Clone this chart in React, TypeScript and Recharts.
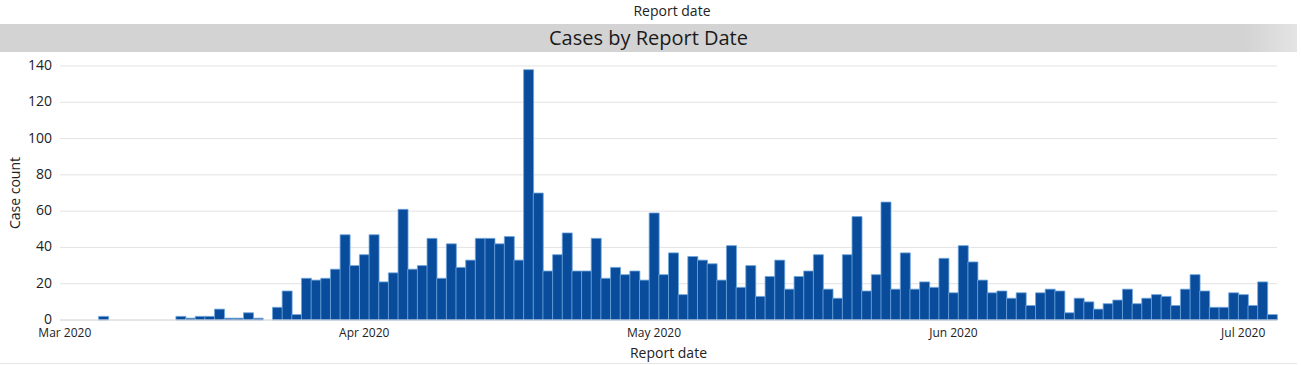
import { BarChart, Bar, XAxis, YAxis, CartesianGrid, Label } from "recharts";

// daily case counts, one array per month
const marchCases = [
  0, 0, 0, 0, 2, 0, 0, 0, 0, 0, 0, 0, 2, 1, 2, 2, 6, 1, 1, 4, 1, 0, 7, 16, 3, 23, 22, 23, 28, 47, 30,
];
const aprilCases = [
  36, 47, 21, 26, 61, 28, 30, 45, 23, 42, 29, 33, 45, 45, 42, 46, 33, 138, 70, 27, 36, 48, 27, 27, 45, 23, 29, 25, 27, 22,
];
const mayCases = [
  59, 25, 37, 14, 35, 33, 31, 22, 41, 18, 30, 13, 24, 33, 17, 24, 27, 36, 17, 12, 36, 57, 16, 25, 65, 17, 37, 17, 21, 18, 34,
];
const juneCases = [
  15, 41, 32, 22, 15, 16, 12, 15, 8, 15, 17, 16, 4, 12, 10, 6, 9, 11, 17, 9, 12, 14, 13, 8, 17, 25, 16, 7, 7, 15,
];
const julyCases = [14, 8, 21, 3];

const months = [
  { key: "Mar", label: "Mar 2020", cases: marchCases },
  { key: "Apr", label: "Apr 2020", cases: aprilCases },
  { key: "May", label: "May 2020", cases: mayCases },
  { key: "Jun", label: "Jun 2020", cases: juneCases },
  { key: "Jul", label: "Jul 2020", cases: julyCases },
];

const yTicks = [0, 20, 40, 60, 80, 100, 120, 140];

const data = months.flatMap((m) =>
  m.cases.map((count, i) => ({ date: `${m.key} ${i + 1}`, count }))
);
const monthTicks = months.map((m) => `${m.key} 1`);
const monthLabel: Record<string, string> = Object.fromEntries(
  months.map((m) => [`${m.key} 1`, m.label])
);

const FONT = "'Segoe UI', 'Open Sans', 'Noto Sans', sans-serif";

export default function App() {
  return (
    <div
      style={{
        position: "absolute",
        left: 0,
        top: 0,
        width: 1301,
        height: 365,
        background: "#fff",
        fontFamily: FONT,
        color: "#222",
        overflow: "hidden",
      }}
    >
      <div style={{ position: "absolute", top: 1, left: 0, width: 1344, textAlign: "center", fontSize: 14 }}>
        Report date
      </div>
      <div
        style={{
          position: "absolute",
          top: 24,
          left: 0,
          width: 1297,
          height: 28,
          background: "linear-gradient(to right, #d3d3d3 96%, #e4e4e4 100%)",
          textAlign: "center",
          fontSize: 20,
          lineHeight: "28px",
          color: "#1a1a1a",
        }}
      >
        Cases by Report Date
      </div>

      <div style={{ position: "absolute", top: 52, left: 0 }}>
        <BarChart
          width={1301}
          height={312}
          data={data}
          margin={{ top: 14, right: 24, left: 0, bottom: 0 }}
          barCategoryGap={0}
        >
          <CartesianGrid vertical={false} stroke="#e3e3e3" />
          <XAxis
            dataKey="date"
            ticks={monthTicks}
            interval={0}
            tickFormatter={(v: string) => monthLabel[v] ?? ""}
            tickLine={false}
            axisLine={{ stroke: "#dcdcdc" }}
            tick={{ fontSize: 12, fill: "#222", fontFamily: FONT }}
            tickMargin={2}
            height={44}
          >
            <Label
              value="Report date"
              position="insideBottom"
              offset={6}
              style={{ fontSize: 14, fill: "#222", fontFamily: FONT }}
            />
          </XAxis>
          <YAxis
            domain={[0, 140]}
            ticks={yTicks}
            tickLine={false}
            axisLine={false}
            width={60}
            tick={{ fontSize: 14, fill: "#222", fontFamily: FONT, dy: -1 }}
          >
            <Label
              value="Case count"
              angle={-90}
              position="insideLeft"
              offset={15}
              style={{ fontSize: 14, fill: "#222", fontFamily: FONT, textAnchor: "middle" }}
            />
          </YAxis>
          <Bar
            dataKey="count"
            fill="#0a4c9c"
            stroke="#6ea7de"
            strokeWidth={0.8}
            isAnimationActive={false}
          />
        </BarChart>
      </div>

      <div style={{ position: "absolute", top: 363, left: 0, width: 1297, height: 1, background: "#e6e6e6" }} />
    </div>
  );
}
